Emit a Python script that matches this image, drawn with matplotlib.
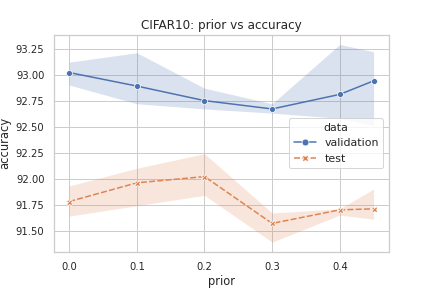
import matplotlib
matplotlib.use("Agg")
import matplotlib.pyplot as plt
import seaborn as sns

prior = [0.0, 0.1, 0.2, 0.3, 0.4, 0.45]
val_mean = [93.02, 92.89, 92.75, 92.67, 92.81, 92.94]
val_low = [92.90, 92.72, 92.67, 92.63, 92.58, 92.51]
val_high = [93.12, 93.21, 92.87, 92.72, 93.29, 93.22]
test_mean = [91.78, 91.96, 92.02, 91.57, 91.70, 91.71]
test_low = [91.64, 91.74, 91.84, 91.39, 91.65, 91.61]
test_high = [91.93, 92.10, 92.24, 91.67, 91.71, 91.90]

sns.set_theme(style="whitegrid")
pal = sns.color_palette("deep")

fig, ax = plt.subplots(figsize=(6, 4), dpi=72)
ax.fill_between(prior, val_low, val_high, color=pal[0], alpha=0.2, linewidth=0)
ax.plot(prior, val_mean, color=pal[0], marker="o", markersize=6,
        markeredgecolor="w", markeredgewidth=0.75, lw=1.5, label="validation")
ax.fill_between(prior, test_low, test_high, color=pal[1], alpha=0.2, linewidth=0)
ax.plot(prior, test_mean, color=pal[1], marker="X", markersize=6,
        markeredgecolor="w", markeredgewidth=0.75, lw=1.5, dashes=(4, 1.5),
        label="test")

ax.set_title("CIFAR10: prior vs accuracy", fontsize=12)
ax.set_xlabel("prior", fontsize=11.5)
ax.set_ylabel("accuracy", fontsize=11.5)
ax.tick_params(labelsize=10)
ax.set_xticks([0.0, 0.1, 0.2, 0.3, 0.4])
ax.legend(title="data", loc="center right", bbox_to_anchor=(1.0, 0.5),
          fontsize=11, title_fontsize=11, markerscale=1.15)
fig.subplots_adjust(left=0.125, right=0.9, bottom=0.125, top=0.88)
fig.savefig("out.png", dpi=72)
